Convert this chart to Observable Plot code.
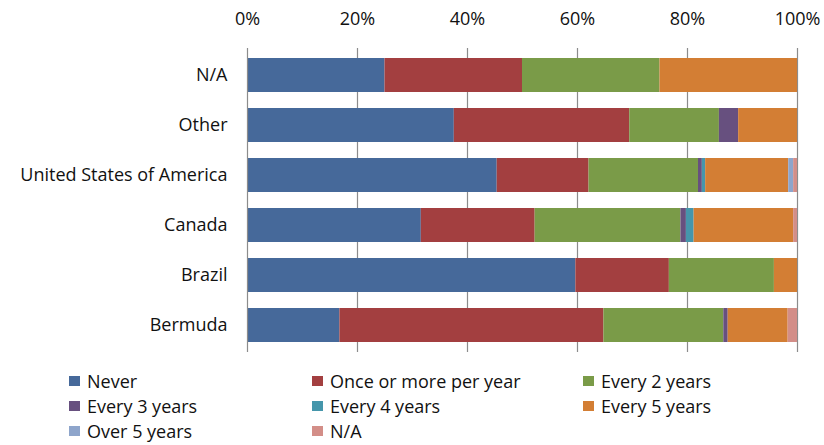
<!DOCTYPE html>
<html><head><meta charset="utf-8">
<script src="https://cdn.jsdelivr.net/npm/d3@7"></script>
<script src="https://cdn.jsdelivr.net/npm/@observablehq/plot@0.6"></script>
<style>
body{margin:0;background:#fff;font-family:"Open Sans",sans-serif;}
#wrap{position:relative;width:824px;height:445px;}
#legend{position:absolute;left:0;top:365px;width:824px;height:80px;}
.item{position:absolute;display:flex;align-items:center;font-size:18px;line-height:20px;color:#111;white-space:nowrap;}
.sw{width:11px;height:10px;margin-right:7px;}
</style>
</head><body><div id="wrap"><div id="chart"></div><div id="legend"></div></div>
<script>
const countries = ["N/A", "Other", "United States of America", "Canada", "Brazil", "Bermuda"];
const frequencies = ["Never", "Once or more per year", "Every 2 years", "Every 3 years", "Every 4 years", "Every 5 years", "Over 5 years", "N/A"];
const colors = ["#46699a", "#a33f40", "#7a9b48", "#67507f", "#4596ab", "#d37e34", "#8ea5cb", "#d38e88"];
const xTicks = [0, 20, 40, 60, 80, 100];

const never       = [25, 37.6, 45.4, 31.6, 59.7, 16.8];
const oncePerYear = [25, 31.9, 16.7, 20.7, 17.0, 48.0];
const every2      = [25, 16.3, 19.9, 26.5, 19.1, 21.8];
const every3      = [0, 3.5, 0.7, 1.0, 0, 0.8];
const every4      = [0, 0, 0.6, 1.4, 0, 0];
const every5      = [25, 10.7, 15.1, 18.1, 4.2, 10.9];
const over5       = [0, 0, 0.9, 0, 0, 0];
const notAvail    = [0, 0, 0.7, 0.7, 0, 1.7];

const series = [never, oncePerYear, every2, every3, every4, every5, over5, notAvail];
const data = [];
countries.forEach((c, i) => series.forEach((s, j) => data.push({country: c, freq: frequencies[j], value: s[i]})));

const chart = Plot.plot({
  width: 824, height: 365,
  marginTop: 48, marginBottom: 13, marginLeft: 247, marginRight: 27,
  style: {fontSize: "18px", fontFamily: "'Open Sans', sans-serif", color: "#111", background: "#fff"},
  x: {domain: [0, 100], axis: "top", ticks: xTicks, tickFormat: d => d + "%", tickSize: 0, tickPadding: 24, label: null},
  y: {domain: countries, paddingInner: 0.32, paddingOuter: 0.185, tickSize: 0, tickPadding: 20, label: null},
  color: {domain: frequencies, range: colors},
  marks: [
    Plot.ruleX(xTicks.slice(1), {stroke: "#8c8c8c", strokeWidth: 1.2}),
    Plot.barX(data, Plot.stackX({x: "value", y: "country", fill: "freq", order: frequencies})),
    Plot.ruleX([0], {stroke: "#8c8c8c", strokeWidth: 1.2})
  ]
});
document.getElementById("chart").appendChild(chart);

const legend = document.getElementById("legend");
const colX = [69, 312, 583];
frequencies.forEach((f, i) => {
  const d = document.createElement("div");
  d.className = "item";
  d.style.left = colX[i % 3] + "px";
  d.style.top = (6 + Math.floor(i / 3) * 25) + "px";
  d.innerHTML = `<span class="sw" style="background:${colors[i]}"></span>${f}`;
  legend.appendChild(d);
});
</script></body></html>
